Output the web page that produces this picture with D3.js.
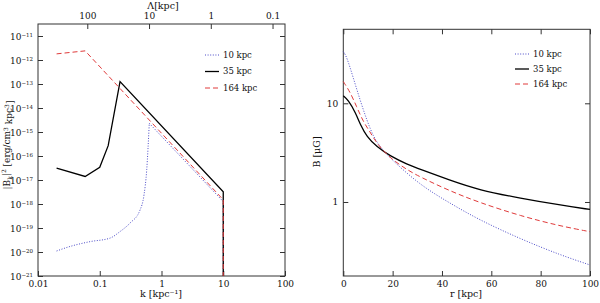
<!DOCTYPE html>
<html>
<head>
<meta charset="utf-8">
<script src="https://cdn.jsdelivr.net/npm/d3@7"></script>
<style>
body { margin: 0; background: #fff; }
svg text { font-family: "DejaVu Serif", serif; fill: #111; }
</style>
</head>
<body>
<svg width="600" height="303"></svg>
<script>
// --- data ---
seriesNames = ['10 kpc', '35 kpc', '164 kpc']

// left panel: power spectrum |B_k|^2 vs k
k10 = [0.02, 0.033, 0.0695, 0.147, 0.213, 0.309, 0.449, 0.521, 0.576, 0.634]
P10 = [1.1e-20, 1.7e-20, 2.7e-20, 3.8e-20, 7.1e-20, 1.6e-19, 5.6e-19, 2.4e-18, 2.6e-17, 2.3e-15]
k10tail = [0.634, 10, 10]
P10tail = [2.3e-15, 1.26e-18, 1e-21]
k35 = [0.02, 0.058, 0.1, 0.137, 0.213, 10, 10]
P35 = [3.1e-17, 1.4e-17, 3.4e-17, 2.7e-16, 1.25e-13, 3.2e-18, 1e-21]
k164 = [0.02, 0.058, 10, 10]
P164 = [1.8e-12, 2.4e-12, 1.5e-18, 1e-21]

// right panel: B(r)
r10 = [0, 1.4, 4.1, 6.8, 9.5, 12.2, 14.9, 19, 31, 43, 55, 72, 88, 100]
B10 = [33.4, 29.7, 17.9, 10.8, 6.78, 4.59, 3.63, 2.77, 1.49, 0.98, 0.66, 0.42, 0.29, 0.23]
r35 = [0, 2, 5, 7, 9.5, 13.5, 19, 26, 31, 43, 55, 72, 88, 100]
B35 = [11.9, 10.8, 8.0, 6.0, 4.6, 3.63, 2.92, 2.4, 2.15, 1.67, 1.32, 1.09, 0.93, 0.84]
r164 = [0, 2.7, 5.4, 8.1, 10.8, 13.5, 19, 26, 31, 43, 55, 72, 88, 100]
B164 = [16.6, 13.1, 9.25, 6.5, 5.16, 3.93, 2.77, 2.11, 1.80, 1.30, 0.99, 0.72, 0.57, 0.50]

// ticks
kMajor = [0.01, 0.1, 1, 10, 100]
kLabels = ['0.01', '0.1', '1', '10', '100']
lamMajor = [100, 10, 1, 0.1]
lamLabels = ['100', '10', '1', '0.1']
pExps = [-21, -20, -19, -18, -17, -16, -15, -14, -13, -12, -11]
rMajor = [0, 20, 40, 60, 80, 100]
bMajor = [1, 10]

let svg = d3.select('svg')

const colors = ['#4b4bc8', '#000', '#e03a3a']
const dashes = ['1,1.6', null, '5,3']
const widths = [1, 1.3, 1]

// scales
let xk = d3.scaleLog().domain([0.01, 100]).range([38, 285])
let yP = d3.scaleLog().domain([1e-21, Math.pow(10, -10.5)]).range([276, 24])
let xLam = d3.scaleLog().domain([2 * Math.PI / 0.01, 2 * Math.PI / 100]).range([38, 285])
let xr = d3.scaleLinear().domain([0, 100]).range([343.3, 590])
let yB = d3.scaleLog().domain([Math.pow(10, -0.75), Math.pow(10, 1.75)]).range([276, 29.3])

function logMinors(scale) {
    let d = scale.domain(), lo = Math.min(d[0], d[1]), hi = Math.max(d[0], d[1])
    let out = []
    for (let e = Math.floor(Math.log10(lo)); e <= Math.ceil(Math.log10(hi)); e++)
        for (let m = 2; m <= 9; m++) {
            let v = m * Math.pow(10, e)
            if (v >= lo * 0.999 && v <= hi * 1.001) out.push(v)
        }
    return out
}

function drawAxis(axisFn, scale, transform, major, minor, fmt, majLen, minLen) {
    let g = svg.append('g').attr('transform', transform)
    g.call(axisFn(scale).tickValues(minor).tickSize(-minLen).tickFormat(''))
    g.call(axisFn(scale).tickValues(major).tickSize(-majLen).tickPadding(5).tickFormat(fmt || ''))
    g.selectAll('.domain').remove()
    g.selectAll('line').attr('stroke', '#333')
    g.selectAll('text').attr('font-size', 9).style('font-family', '"DejaVu Serif", serif')
    return g
}

// ---------- left panel ----------
let L = {x0: 38, x1: 285, y0: 24, y1: 276}
let kMinor = logMinors(xk)
drawAxis(d3.axisBottom, xk, `translate(0,${L.y1})`, kMajor, kMinor, (d, i) => kLabels[i], 5, 2.5)
drawAxis(d3.axisTop, xLam, `translate(0,${L.y0})`, lamMajor, logMinors(xLam), (d, i) => lamLabels[i], 5, 2.5)
let pMajor = pExps.map(e => Math.pow(10, e))
let pMinor = logMinors(yP)
let gl = drawAxis(d3.axisLeft, yP, `translate(${L.x0},0)`, pMajor, pMinor, d => 'x', 5, 2.5)
gl.selectAll('.tick text').each(function(d, i) {
    let t = d3.select(this).text(null).attr('dy', '0.35em')
    t.append('tspan').text('10')
    t.append('tspan').attr('dy', '-0.45em').attr('font-size', 5.5).text('\u2212' + (-pExps[i]))
})
drawAxis(d3.axisRight, yP, `translate(${L.x1},0)`, pMajor, pMinor, null, 5, 2.5)

svg.append('rect').attr('x', L.x0).attr('y', L.y0).attr('width', L.x1 - L.x0).attr('height', L.y1 - L.y0)
    .attr('fill', 'none').attr('stroke', '#333').attr('stroke-width', 1)

let lineK = d3.line().x(d => xk(d[0])).y(d => yP(d[1]))
let lineKs = d3.line().x(d => xk(d[0])).y(d => yP(d[1])).curve(d3.curveMonotoneX)
let leftSeries = [
    [d3.zip(k10, P10), lineKs, 0],
    [d3.zip(k10tail, P10tail), lineK, 0],
    [d3.zip(k35, P35), lineK, 1],
    [d3.zip(k164, P164), lineK, 2]
]
leftSeries.forEach(s => {
    svg.append('path').attr('d', s[1](s[0])).attr('fill', 'none')
        .attr('stroke', colors[s[2]]).attr('stroke-width', widths[s[2]])
        .attr('stroke-dasharray', dashes[s[2]])
})

svg.append('text').attr('x', 161).attr('y', 297).attr('text-anchor', 'middle').attr('font-size', 9.5).text('k [kpc\u207B\u00B9]')
svg.append('text').attr('x', 163).attr('y', 9).attr('text-anchor', 'middle').attr('font-size', 9.5).text('\u039B[kpc]')
let yl = svg.append('text').attr('transform', 'translate(10,145) rotate(-90)').attr('text-anchor', 'middle').attr('font-size', 9)
yl.append('tspan').text('|B')
yl.append('tspan').attr('dy', '0.3em').attr('font-size', 6).text('k')
yl.append('tspan').attr('dy', '-0.3em').text('|')
yl.append('tspan').attr('dy', '-0.45em').attr('font-size', 6).text('2')
yl.append('tspan').attr('dy', '0.45em').text(' [erg/cm')
yl.append('tspan').attr('dy', '-0.45em').attr('font-size', 6).text('3')
yl.append('tspan').attr('dy', '0.45em').text(' kpc')
yl.append('tspan').attr('dy', '-0.45em').attr('font-size', 6).text('3')
yl.append('tspan').attr('dy', '0.45em').text(']')

function legend(x, y0, dy) {
    seriesNames.forEach((n, i) => {
        let y = y0 + i * dy
        svg.append('line').attr('x1', x).attr('x2', x + 14).attr('y1', y).attr('y2', y)
            .attr('stroke', colors[i]).attr('stroke-width', widths[i]).attr('stroke-dasharray', dashes[i])
        svg.append('text').attr('x', x + 18).attr('y', y).attr('dy', '0.35em').attr('font-size', 8.5).text(n)
    })
}
legend(205, 55, 16.5)

// ---------- right panel ----------
let R = {x0: 343.3, x1: 590, y0: 29.3, y1: 276}
let rMinor = d3.range(0, 101, 5).filter(v => v % 20 != 0)
drawAxis(d3.axisBottom, xr, `translate(0,${R.y1})`, rMajor, rMinor, d => d, 5, 2.5)
drawAxis(d3.axisTop, xr, `translate(0,${R.y0})`, rMajor, rMinor, null, 5, 2.5)
let bMinor = logMinors(yB)
drawAxis(d3.axisLeft, yB, `translate(${R.x0},0)`, bMajor, bMinor, d => d, 5, 2.5)
drawAxis(d3.axisRight, yB, `translate(${R.x1},0)`, bMajor, bMinor, null, 5, 2.5)
svg.append('rect').attr('x', R.x0).attr('y', R.y0).attr('width', R.x1 - R.x0).attr('height', R.y1 - R.y0)
    .attr('fill', 'none').attr('stroke', '#333').attr('stroke-width', 1)

let lineR = d3.line().x(d => xr(d[0])).y(d => yB(d[1])).curve(d3.curveBasis)
;[[r10, B10], [r35, B35], [r164, B164]].forEach((s, i) => {
    svg.append('path').attr('d', lineR(d3.zip(s[0], s[1]))).attr('fill', 'none')
        .attr('stroke', colors[i]).attr('stroke-width', widths[i]).attr('stroke-dasharray', dashes[i])
})

svg.append('text').attr('x', 466).attr('y', 297).attr('text-anchor', 'middle').attr('font-size', 9.5).text('r [kpc]')
svg.append('text').attr('transform', 'translate(320,152) rotate(-90)').attr('text-anchor', 'middle').attr('font-size', 9.5).text('B [\u03BCG]')
legend(515, 54, 15)
</script>
</body>
</html>
